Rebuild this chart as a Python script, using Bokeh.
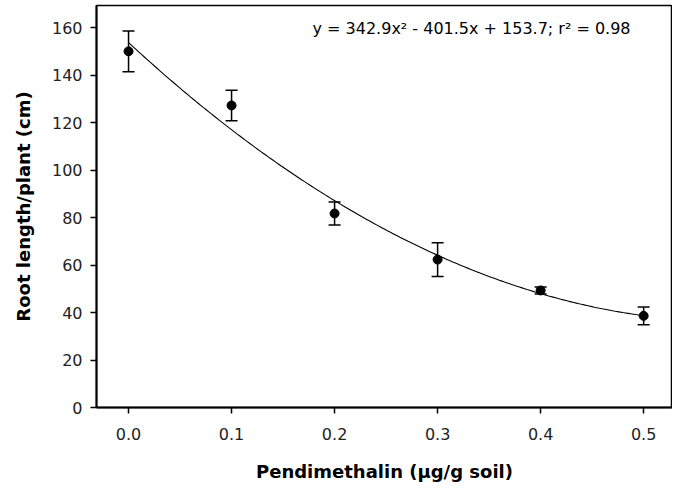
import numpy as np
from bokeh.plotting import figure
from bokeh.models import ColumnDataSource, Whisker, Label, FixedTicker, Range1d
from bokeh.embed import file_html
from bokeh.resources import INLINE

# Data
dose = [0.0, 0.1, 0.2, 0.3, 0.4, 0.5]
root_length = [150.0, 127.2, 81.7, 62.3, 49.3, 38.6]
std_err = [8.6, 6.4, 4.8, 7.1, 1.5, 3.7]

# Quadratic fit coefficients (from the equation shown)
fit_coef = [342.9, -401.5, 153.7]
fit_r2 = 0.98

x_ticks = [0.0, 0.1, 0.2, 0.3, 0.4, 0.5]
x_tick_labels = ["0.0", "0.1", "0.2", "0.3", "0.4", "0.5"]
y_ticks = [0, 20, 40, 60, 80, 100, 120, 140, 160]

FONT = "DejaVu Sans"

p = figure(width=672, height=488, output_backend="svg", toolbar_location=None,
           x_range=Range1d(-0.0311, 0.528), y_range=Range1d(0, 169.3),
           min_border_left=96, min_border_right=0, min_border_top=5,
           min_border_bottom=81)

p.background_fill_color = "white"
p.border_fill_color = "white"
p.xgrid.visible = False
p.ygrid.visible = False
p.outline_line_color = "black"
p.outline_line_width = 1.5

# axes
for ax in (p.xaxis[0], p.yaxis[0]):
    ax.axis_line_color = "black"
    ax.axis_line_width = 2
    ax.major_tick_line_color = "black"
    ax.major_tick_line_width = 1.5
    ax.major_tick_in = 0
    ax.major_tick_out = 6
    ax.minor_tick_line_color = None
    ax.major_label_text_font = FONT
    ax.major_label_text_font_size = "16px"
    ax.major_label_text_color = "#222222"
    ax.axis_label_text_font = FONT
    ax.axis_label_text_font_style = "bold"
    ax.axis_label_text_font_size = "18px"
    ax.axis_label_text_color = "black"

p.xaxis.ticker = FixedTicker(ticks=x_ticks)
p.xaxis.major_label_overrides = {t: l for t, l in zip(x_ticks, x_tick_labels)}
p.xaxis.major_label_standoff = 14
p.xaxis.axis_label = "Pendimethalin (µg/g soil)"
p.xaxis.axis_label_standoff = 18

p.yaxis.ticker = FixedTicker(ticks=y_ticks)
p.yaxis.major_label_standoff = 8
p.yaxis.axis_label = "Root length/plant (cm)"
p.yaxis.axis_label_standoff = 15

# fitted curve
xf = np.linspace(min(dose), max(dose), 200)
yf = np.polyval(fit_coef, xf)
p.line(xf, yf, line_color="black", line_width=1.1)

# error bars
src = ColumnDataSource(dict(
    x=dose, y=root_length,
    upper=[m + e for m, e in zip(root_length, std_err)],
    lower=[m - e for m, e in zip(root_length, std_err)],
))
w = Whisker(base="x", upper="upper", lower="lower", source=src,
            line_color="black", line_width=1.5)
w.upper_head.size = 12
w.lower_head.size = 12
w.upper_head.line_width = 1.5
w.lower_head.line_width = 1.5
w.upper_head.line_color = "black"
w.lower_head.line_color = "black"
p.add_layout(w)

p.scatter("x", "y", source=src, size=9, fill_color="black", line_color="black")

eq = (f"y = {fit_coef[0]}x² - {abs(fit_coef[1])}x + {fit_coef[2]}; "
      f"r² = {fit_r2}")
p.add_layout(Label(x=0.1786, y=159.6, text=eq, text_font=FONT,
                   text_font_size="16px", text_baseline="middle",
                   text_color="black"))

open("out.html", "w").write(file_html(p, INLINE))
